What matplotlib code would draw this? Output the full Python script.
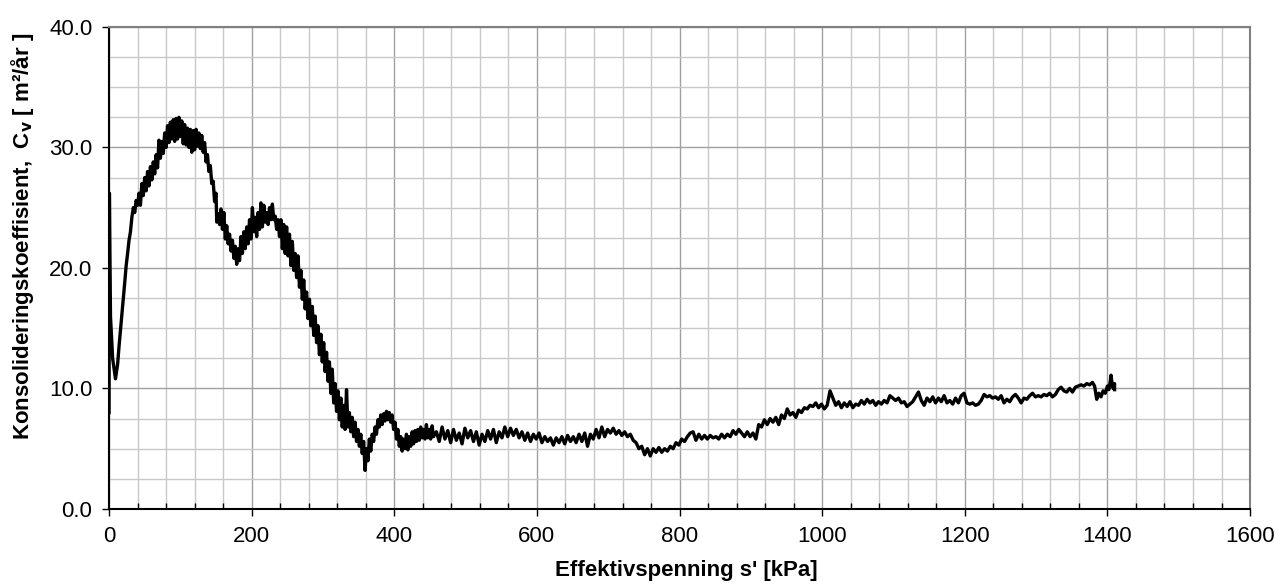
import matplotlib.pyplot as plt
from matplotlib.ticker import MultipleLocator

plt.rcParams['font.family'] = ['Liberation Sans', 'DejaVu Sans']

# effective stress [kPa] and cv [m2/year]
stress = [0, 0.5, 2, 5, 9, 12, 14, 16, 18, 20, 22, 24, 26, 28, 30, 32, 34, 36, 38, 40,
          42, 44, 46, 48, 50, 52, 54, 56, 58, 60, 62, 64, 66, 68, 70, 72, 74, 76, 78, 80,
          82, 84, 86, 88, 90, 92, 94, 96, 98, 100, 102, 104, 106, 108, 110, 112, 114, 116, 118, 120,
          122, 124, 126, 128, 130, 132, 134, 136, 138, 140, 142, 144, 146, 148, 150, 151, 153, 155, 157, 159,
          161, 163, 165, 167, 169, 171, 173, 175, 177, 179, 181, 183, 185, 187, 189, 191, 193, 195, 197, 199,
          201, 203, 205, 207, 209, 211, 213, 215, 217, 219, 221, 223, 225, 227, 229, 231, 233, 235, 237, 239,
          241, 243, 245, 247, 249, 251, 253, 255, 257, 259, 261, 263, 265, 267, 269, 271, 273, 275, 277, 279,
          281, 283, 285, 287, 289, 291, 293, 295, 297, 299, 301, 303, 305, 307, 309, 311, 313, 315, 317, 319,
          321, 323, 325, 327, 329, 331, 333, 335, 337, 339, 341, 343, 345, 347, 349, 351, 353, 355, 357, 359,
          361, 363, 365, 367, 369, 371, 373, 375, 377, 379, 381, 383, 385, 387, 389, 391, 393, 395, 397, 399,
          401, 403, 405, 407, 409, 411, 413, 415, 417, 419, 421, 423, 425, 427, 429, 431, 433, 435, 437, 439,
          441, 443, 445, 447, 449, 451, 453, 455, 459, 463, 467, 471, 475, 479, 483, 487, 491, 495, 499, 503,
          507, 511, 515, 519, 523, 527, 531, 535, 539, 543, 547, 551, 555, 559, 563, 567, 571, 575, 579, 583,
          587, 591, 595, 599, 603, 607, 611, 615, 619, 623, 627, 631, 635, 639, 643, 647, 651, 655, 659, 663,
          667, 671, 675, 679, 683, 687, 691, 695, 699, 703, 707, 711, 715, 719, 723, 727, 731, 735, 739, 743,
          747, 751, 755, 759, 763, 767, 771, 775, 779, 783, 787, 791, 795, 799, 803, 807, 811, 815, 819, 823,
          827, 831, 835, 839, 843, 847, 851, 855, 859, 863, 867, 871, 875, 879, 883, 887, 891, 895, 899, 903,
          907, 911, 915, 919, 923, 927, 931, 935, 939, 943, 947, 951, 955, 959, 963, 967, 971, 975, 979, 983,
          987, 991, 995, 999, 1003, 1007, 1011, 1015, 1019, 1023, 1027, 1031, 1035, 1039, 1043, 1047, 1051, 1055, 1059, 1063,
          1067, 1071, 1075, 1079, 1083, 1087, 1091, 1095, 1099, 1103, 1107, 1111, 1115, 1119, 1123, 1127, 1131, 1135, 1139, 1143,
          1147, 1151, 1155, 1159, 1163, 1167, 1171, 1175, 1179, 1183, 1187, 1191, 1195, 1199, 1203, 1207, 1211, 1215, 1219, 1223,
          1227, 1231, 1235, 1239, 1243, 1247, 1251, 1255, 1259, 1263, 1267, 1271, 1275, 1279, 1283, 1287, 1291, 1295, 1299, 1303,
          1307, 1311, 1315, 1319, 1323, 1327, 1331, 1335, 1339, 1343, 1347, 1351, 1355, 1359, 1363, 1367, 1371, 1375, 1379, 1382,
          1385, 1388, 1391, 1394, 1397, 1400, 1402, 1404, 1405, 1407, 1408, 1410, 1410]
cv = [8.0, 26.2, 16.0, 12.5, 10.8, 12.0, 13.5, 14.8, 16.2, 17.5, 18.8, 20.2, 21.2, 22.3, 23.0, 24.2, 25.0, 24.6, 25.6, 25.2,
      26.2, 25.2, 27.0, 26.0, 27.5, 26.4, 28.0, 26.8, 28.4, 27.3, 28.8, 27.8, 29.4, 28.3, 30.6, 29.1, 30.5, 29.5, 31.2, 30.0,
      31.8, 30.4, 32.1, 30.7, 32.3, 30.5, 32.4, 30.7, 32.5, 30.9, 32.2, 30.3, 31.9, 30.2, 31.6, 30.0, 31.5, 29.6, 31.4, 29.8,
      31.5, 30.1, 31.2, 29.9, 31.0, 29.6, 30.4, 28.8, 29.4, 28.0, 28.5, 27.0, 27.2, 25.5, 26.2, 23.8, 24.5, 23.6, 24.9, 23.2,
      24.6, 22.4, 23.5, 22.0, 22.8, 21.4, 22.3, 20.8, 21.8, 20.3, 21.6, 20.6, 22.6, 21.2, 23.0, 21.6, 23.4, 22.0, 24.0, 22.4,
      25.0, 23.0, 24.2, 22.6, 24.6, 23.2, 25.4, 23.4, 25.2, 23.8, 24.6, 23.6, 25.0, 24.0, 25.3, 24.0, 24.3, 23.2, 24.0, 22.6,
      24.0, 21.6, 23.6, 21.2, 23.4, 21.0, 22.8, 20.2, 22.2, 19.8, 21.2, 19.2, 21.0, 18.4, 19.8, 17.4, 19.0, 16.6, 18.0, 15.8,
      17.4, 15.2, 16.8, 14.4, 16.0, 13.8, 15.2, 12.8, 14.5, 12.2, 13.8, 11.4, 13.0, 10.6, 12.2, 9.6, 11.6, 8.8, 10.4, 8.1,
      9.8, 7.4, 9.2, 6.8, 8.6, 6.6, 9.9, 6.8, 8.0, 6.4, 7.6, 6.0, 7.2, 5.6, 6.6, 5.2, 6.2, 4.6, 5.6, 3.2,
      5.0, 4.0, 5.8, 4.8, 6.2, 5.6, 6.8, 6.2, 7.4, 6.8, 7.8, 7.0, 7.9, 7.3, 8.1, 7.4, 8.0, 7.2, 7.8, 6.6,
      7.2, 5.8, 6.6, 5.2, 6.0, 4.8, 5.8, 5.0, 6.2, 4.9, 6.0, 5.2, 6.4, 5.4, 6.5, 5.6, 6.6, 5.7, 6.8, 5.9,
      6.6, 5.8, 7.0, 5.9, 6.6, 5.8, 6.9, 6.0, 6.4, 5.6, 6.8, 5.8, 6.5, 5.5, 6.6, 5.7, 6.3, 5.4, 6.7, 5.9,
      6.5, 5.6, 6.4, 5.3, 6.2, 5.6, 6.5, 5.8, 6.6, 5.5, 6.4, 5.9, 6.8, 6.0, 6.7, 6.1, 6.6, 5.9, 6.4, 5.7,
      6.3, 5.6, 6.2, 5.8, 6.3, 5.5, 6.0, 5.6, 5.9, 5.3, 5.9, 5.5, 6.0, 5.4, 6.1, 5.6, 6.0, 5.5, 6.2, 5.6,
      6.3, 5.2, 6.2, 5.8, 6.6, 5.9, 6.8, 6.0, 6.6, 6.3, 6.7, 6.2, 6.5, 6.1, 6.4, 6.0, 6.2, 5.7, 5.5, 5.0,
      5.2, 4.5, 5.0, 4.4, 5.0, 4.7, 5.1, 4.7, 5.0, 4.8, 5.2, 5.0, 5.5, 5.3, 5.8, 5.6, 6.0, 6.3, 6.4, 5.7,
      6.2, 5.8, 6.1, 5.8, 6.1, 5.9, 6.0, 5.8, 6.2, 5.9, 6.2, 6.0, 6.5, 6.2, 6.6, 6.3, 6.0, 6.4, 6.0, 6.3,
      5.8, 7.0, 6.8, 7.4, 7.0, 7.5, 7.2, 7.6, 7.0, 7.8, 7.5, 8.3, 7.8, 8.0, 7.6, 8.2, 8.0, 8.4, 8.3, 8.6,
      8.5, 8.8, 8.4, 8.7, 8.3, 8.6, 9.8, 9.2, 8.6, 8.9, 8.4, 8.8, 8.5, 8.9, 8.4, 8.7, 8.6, 9.0, 8.7, 9.1,
      8.8, 9.0, 8.6, 8.9, 8.7, 9.0, 8.8, 9.4, 9.2, 9.0, 9.2, 8.8, 8.9, 8.5, 8.7, 8.9, 9.3, 9.7, 9.0, 8.6,
      9.2, 8.9, 9.3, 8.8, 9.2, 8.9, 9.4, 8.8, 9.0, 8.7, 9.2, 8.8, 9.4, 9.6, 8.8, 8.7, 8.8, 8.6, 8.7, 9.0,
      9.5, 9.3, 9.4, 9.2, 9.3, 9.1, 9.4, 8.8, 9.1, 8.9, 9.3, 9.5, 9.2, 8.8, 9.2, 9.1, 9.4, 9.6, 9.3, 9.4,
      9.3, 9.5, 9.4, 9.6, 9.3, 9.5, 9.9, 10.1, 9.8, 9.7, 10.0, 9.7, 10.1, 10.2, 10.3, 10.2, 10.4, 10.3, 10.5, 10.2,
      9.1, 9.6, 9.3, 9.8, 9.6, 10.2, 9.9, 10.6, 11.1, 10.2, 10.0, 10.4, 9.9]

fig = plt.figure(figsize=(12.8, 5.85), dpi=100)
ax = fig.add_axes([0.0852, 0.130, 0.8914, 0.824])

ax.plot(stress, cv, color='black', linewidth=2.4, zorder=3)

ax.set_xlim(0, 1600)
ax.set_ylim(0, 40)
ax.xaxis.set_major_locator(MultipleLocator(200))
ax.xaxis.set_minor_locator(MultipleLocator(40))
ax.yaxis.set_major_locator(MultipleLocator(10))
ax.yaxis.set_minor_locator(MultipleLocator(2.5))
ax.yaxis.set_major_formatter(lambda v, p: f"{v:.1f}")

ax.grid(which='major', color='#a0a0a0', linewidth=1.0)
ax.grid(which='minor', color='#c8c8c8', linewidth=1.0)
ax.set_axisbelow(True)

for s in ['top', 'right']:
    ax.spines[s].set_color('#808080')
    ax.spines[s].set_linewidth(1.5)
for s in ['left', 'bottom']:
    ax.spines[s].set_color('black')
    ax.spines[s].set_linewidth(1.5)

ax.tick_params(axis='both', which='major', direction='out', length=5, width=1,
               labelsize=16, colors='black')
ax.tick_params(axis='x', which='major', pad=7)
ax.tick_params(axis='y', which='major', pad=7)
ax.tick_params(axis='x', which='minor', direction='in', length=4, width=1)
ax.tick_params(axis='y', which='minor', length=0)

ax.set_xlabel("Effektivspenning s' [kPa]", fontsize=16, fontweight='bold', labelpad=9)
ax.set_ylabel("Konsolideringskoeffisient,  C$_\\mathbf{v}$ [ m²/år ]", fontsize=16,
              fontweight='bold', labelpad=8)
ax.xaxis.set_label_coords(0.506, -0.105)
ax.yaxis.set_label_coords(-0.064, 0.565)

fig.savefig('out.png', dpi=100)
